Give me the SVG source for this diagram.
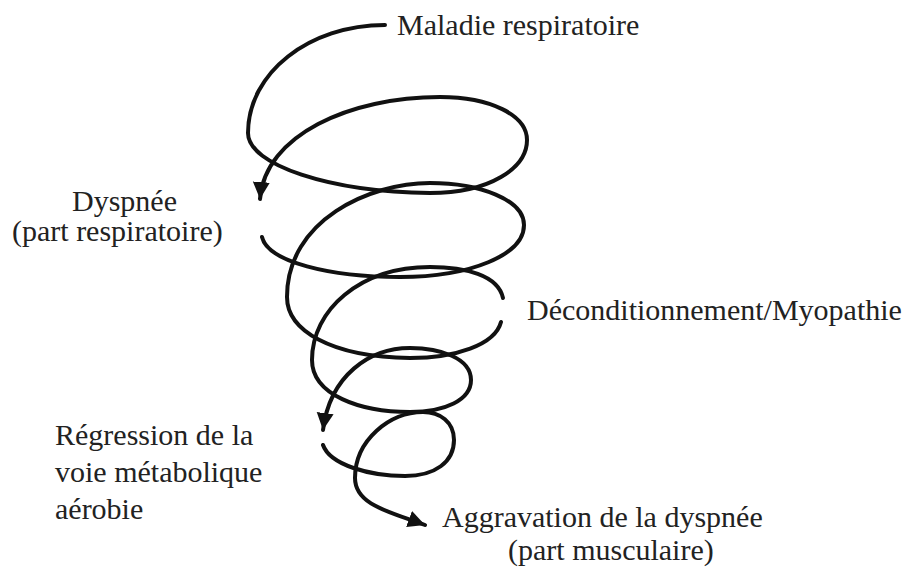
<svg xmlns="http://www.w3.org/2000/svg" width="914" height="567" viewBox="0 0 914 567">
  <style>
    .lbl { font-family: "Liberation Serif", "Times New Roman", serif; font-size: 30px; fill: #222; }
    .sp { fill: none; stroke: #111; stroke-width: 4; stroke-linecap: round; stroke-linejoin: round; }
  </style>
  <defs>
    <marker id="ah" markerUnits="userSpaceOnUse" markerWidth="20" markerHeight="20" refX="17" refY="8.5" orient="auto" viewBox="0 0 20 17">
      <path d="M0,0 L17,8.5 L0,17 Z" fill="#111"/>
    </marker>
  </defs>
  <rect width="914" height="567" fill="#fff"/>

  <g id="connectors">
    <path class="sp" marker-end="url(#ah)" d="M385,25 C309,25 248,73 248,133 C248,165 330,192 430,193 C490,193 527,168 527,140 C527,115 490,97 440,97 C350,97 265,135 260,199"/>
    <path class="sp" d="M262,237 C268,262 330,277 400,277 C470,277 524,255 524,225 C524,200 480,183 430,183 C370,183 287,220 287,297 C287,330 330,357 410,358 C455,358 495,345 501,322"/>
    <path class="sp" marker-end="url(#ah)" d="M503,298 C498,275 465,267 430,267 C360,267 312,310 312,360 C312,395 360,412 410,412 C445,412 471,400 471,380 C471,358 440,348 410,348 C370,348 330,375 323,430"/>
    <path class="sp" marker-end="url(#ah)" d="M323,445 C330,465 370,476 405,476 C435,476 454,462 454,440 C454,422 440,412 423,412 C390,412 355,440 355,478 C355,505 390,512 425,525"/>
  </g>

  <g id="maladie">
    <text class="lbl" x="397" y="35">Maladie respiratoire</text>
  </g>
  <g id="dyspnee">
    <text class="lbl" x="72" y="211">Dyspnée</text>
    <text class="lbl" x="12" y="241">(part respiratoire)</text>
  </g>
  <g id="deconditionnement">
    <text class="lbl" x="527" y="320">Déconditionnement/Myopathie</text>
  </g>
  <g id="regression">
    <text class="lbl" x="55" y="445">Régression de la</text>
    <text class="lbl" x="55" y="482">voie métabolique</text>
    <text class="lbl" x="55" y="519">aérobie</text>
  </g>
  <g id="aggravation">
    <text class="lbl" x="442" y="527">Aggravation de la dyspnée</text>
    <text class="lbl" x="508" y="560">(part musculaire)</text>
  </g>
</svg>
